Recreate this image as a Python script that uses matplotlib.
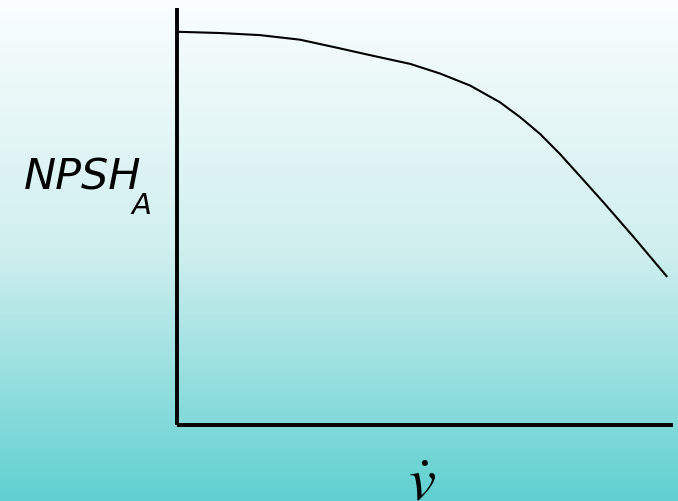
import matplotlib
matplotlib.use("Agg")
import matplotlib.pyplot as plt
import numpy as np

# curve (flow rate vs available NPSH, arbitrary units 0-100)
flow = [0, 8.7, 16.7, 24.8, 32.9, 38.9, 47.0, 53.0, 59.1, 65.1, 69.2,
        73.2, 77.2, 81.3, 85.9, 91.9, 98.7]
npsh = [94.3, 94.0, 93.5, 92.4, 90.3, 88.7, 86.6, 84.3, 81.4, 77.4, 73.8,
        69.8, 65.0, 59.6, 53.5, 45.3, 35.7]

W, H = 678, 502
fig = plt.figure(figsize=(W / 100, H / 100), dpi=100)

# background gradient, white at top to teal at bottom
bg = fig.add_axes([0, 0, 1, 1])
top = np.array([250, 254, 254]) / 255
mid = np.array([208, 239, 239]) / 255
bot = np.array([96, 208, 208]) / 255
rows = []
for v in np.linspace(0, 1, 256):
    if v < 0.5:
        rows.append(top + (mid - top) * v / 0.5)
    else:
        rows.append(mid + (bot - mid) * (v - 0.5) / 0.5)
img = np.array(rows)[:, None, :]
bg.imshow(img, aspect="auto", extent=[0, 1, 0, 1], origin="upper")
bg.axis("off")

# main axes: left spine at x=177px, bottom spine at y=426px
x0, x1 = 177, 673
y0, y1 = 9, 426
ax = fig.add_axes([x0 / W, 1 - y1 / H, (x1 - x0) / W, (y1 - y0) / H])
ax.patch.set_alpha(0)
ax.plot(flow, npsh, color="black", lw=1.5, solid_joinstyle="round")
ax.set_xlim(0, 100)
ax.set_ylim(0, 100)
for s in ["top", "right"]:
    ax.spines[s].set_visible(False)
for s in ["left", "bottom"]:
    ax.spines[s].set_linewidth(2.8)
    ax.spines[s].set_color("black")
    ax.spines[s].set_capstyle("butt")
ax.set_xticks([])
ax.set_yticks([])

# y label: NPSH with subscript A
fig.text(24 / W, 1 - 190 / H, "NPSH", fontsize=31, style="italic",
         va="baseline", ha="left", color="black")
fig.text(132 / W, 1 - 214 / H, "A", fontsize=21, style="italic",
         va="baseline", ha="left", color="black")
# x label: v dot
fig.text(422 / W, 1 - 484 / H, r"$\dot{v}$", fontsize=44, va="center", ha="center",
         math_fontfamily="stix", color="black")

fig.savefig("out.png", dpi=100)
